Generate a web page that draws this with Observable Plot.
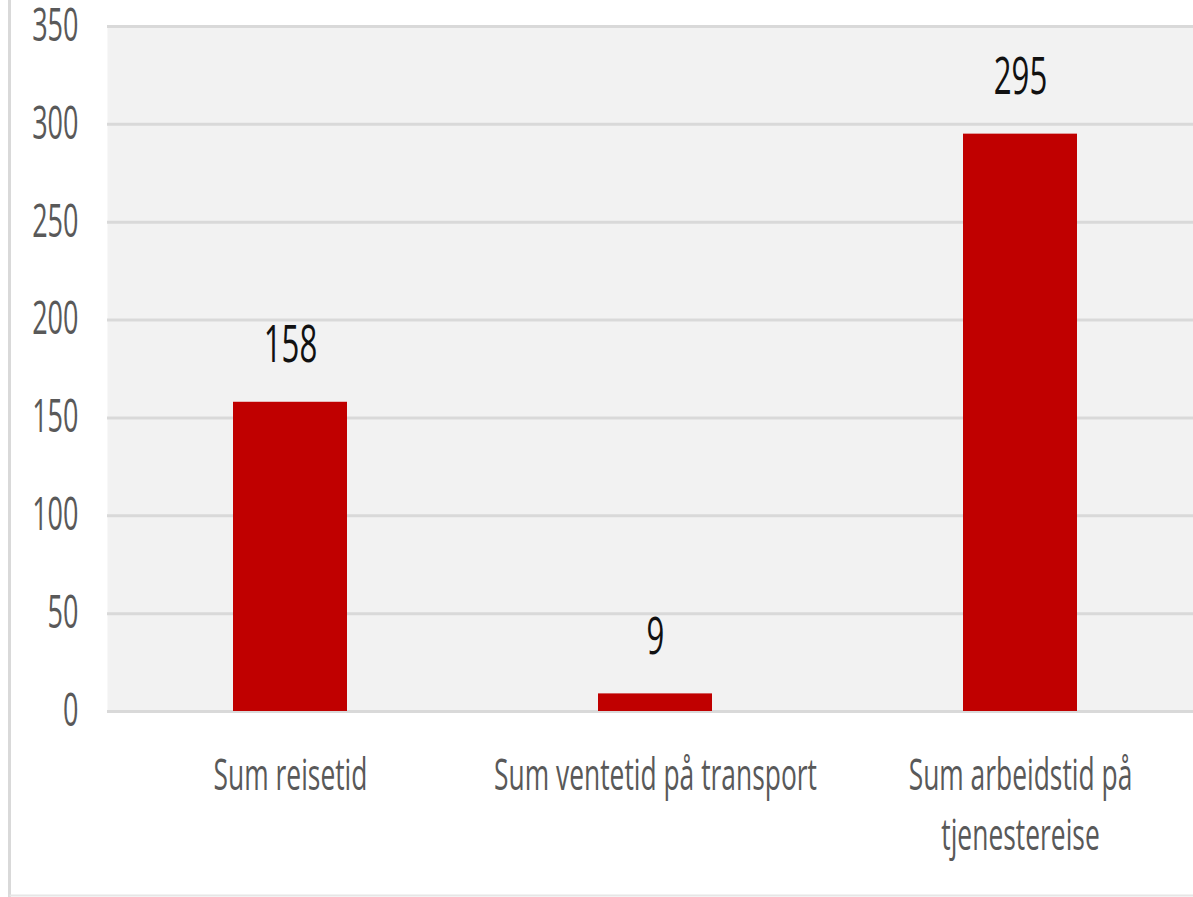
<!DOCTYPE html>
<html>
<head>
<meta charset="utf-8">
<script src="https://cdn.jsdelivr.net/npm/d3@7"></script>
<script src="https://cdn.jsdelivr.net/npm/@observablehq/plot@0.6"></script>
<style>
  html, body { margin: 0; padding: 0; background: #ffffff; }
  #chart { position: relative; width: 1193px; height: 897px; overflow: hidden; }
</style>
</head>
<body>
<div id="chart"></div>
<script>
const categories = ["Sum reisetid", "Sum ventetid på transport", "Sum arbeidstid på\ntjenestereise"];
const values = [158, 9, 295];
const yTicks = [0, 50, 100, 150, 200, 250, 300, 350];

const data = categories.map((c, i) => ({category: c, value: values[i]}));

const W = 1193, H = 897;
const svg = Plot.plot({
  width: W,
  height: H,
  marginLeft: 107,
  marginRight: 0,
  marginTop: 26,
  marginBottom: 186,
  style: {fontFamily: "'Open Sans', sans-serif", background: "#ffffff", overflow: "visible"},
  x: {domain: categories, range: [106.25, 1202.75], paddingInner: 0.688, paddingOuter: 0.344, axis: null},
  y: {domain: [0, 350], axis: null},
  marks: [
    Plot.frame({fill: "#f2f2f2", stroke: null}),
    Plot.ruleY(yTicks, {stroke: "#d9d9d9", strokeWidth: 3}),
    Plot.barY(data, {x: "category", y: "value", fill: "#c00000"}),
    Plot.axisY(yTicks, {tickSize: 0, tickPadding: 29, fontSize: 45, fill: "#595959", label: null, tickFormat: d => String(d)}),
    Plot.text(data, {x: "category", y: "value", text: d => String(d.value), dy: -57, fontSize: 52, fill: "#111111", lineAnchor: "middle"}),
    Plot.text(data, {x: "category", y: () => 0, text: "category", dy: 36, fontSize: 44, fill: "#595959", lineAnchor: "top", lineHeight: 1.36})
  ]
});

document.getElementById("chart").appendChild(svg);

// border lines of the chart area (left and bottom)
const s = d3.select(svg);
s.append("line").attr("x1", 9.5).attr("x2", 9.5).attr("y1", 0).attr("y2", H).attr("stroke", "#d9d9d9").attr("stroke-width", 3);
s.append("line").attr("x1", 9.5).attr("x2", W).attr("y1", 895.5).attr("y2", 895.5).attr("stroke", "#e6e6e6").attr("stroke-width", 2);

// condensed look of the reference: compress glyphs horizontally
const k = 0.6;
svg.querySelectorAll("text").forEach(t => {
  const spans = t.querySelectorAll("tspan");
  const targets = spans.length ? Array.from(spans) : [t];
  targets.forEach(el => {
    const len = el.getComputedTextLength();
    if (len > 0) {
      el.setAttribute("textLength", (len * k).toFixed(2));
      el.setAttribute("lengthAdjust", "spacingAndGlyphs");
    }
  });
});
</script>
</body>
</html>
